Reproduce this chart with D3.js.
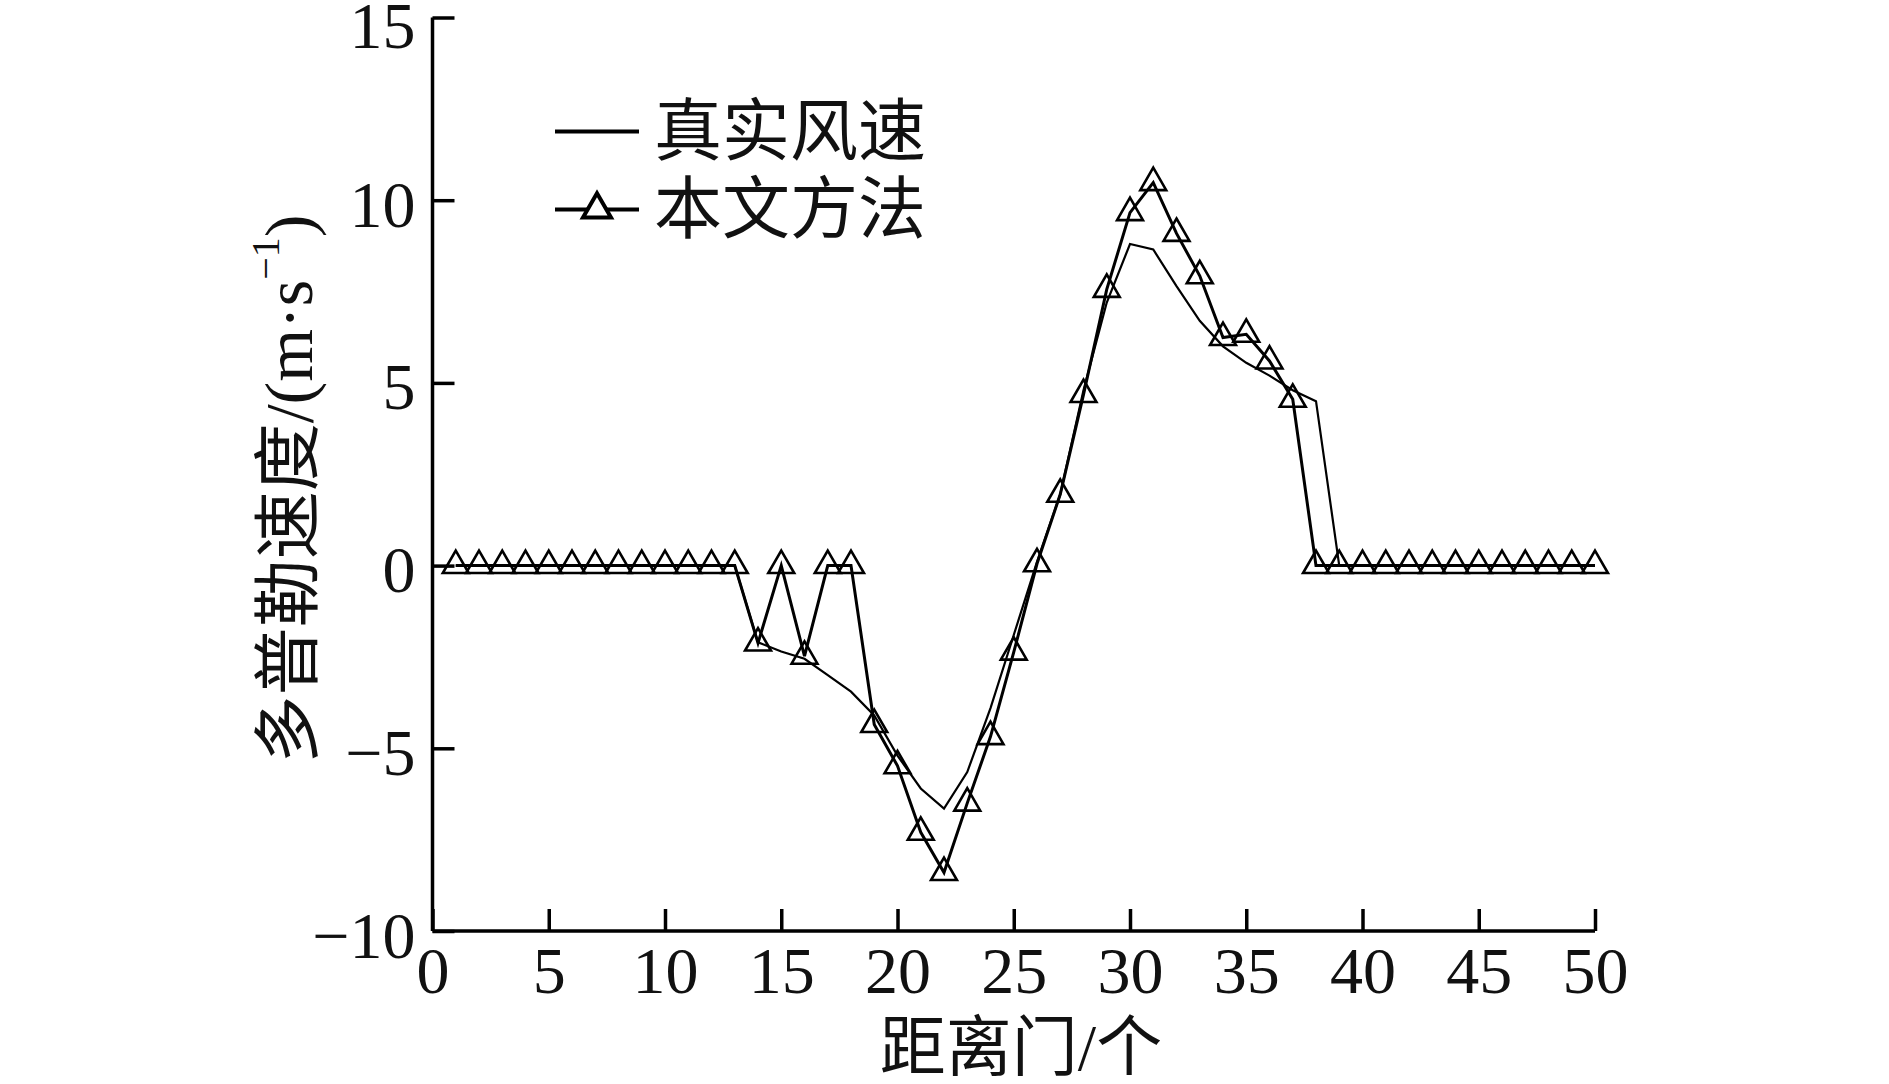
<!DOCTYPE html>
<html>
<head>
<meta charset="utf-8">
<script src="https://cdn.jsdelivr.net/npm/d3@7"></script>
<style>
  html, body { margin: 0; padding: 0; background: #fff; }
  svg { display: block; }
</style>
</head>
<body>
<svg id="chart" width="1889" height="1084"></svg>
<script>
// ---- data ----
const gates = [1,2,3,4,5,6,7,8,9,10,11,12,13,14,15,16,17,18,19,20,21,22,23,24,25,
               26,27,28,29,30,31,32,33,34,35,36,37,38,39,40,41,42,43,44,45,46,47,48,49,50];
// 真实风速
const trueSpeed = [0,0,0,0,0,0,0,0,0,0,0,0,0,-2.1,-2.35,-2.55,-3.0,-3.45,-4.1,-5.2,
                   -6.1,-6.65,-5.65,-3.9,-1.9,0.1,1.95,4.8,7.2,8.8,8.65,7.65,6.7,6.0,5.55,
                   5.2,4.8,4.5,0,0,0,0,0,0,0,0,0,0,0,0];
// 本文方法
const methodSpeed = [0,0,0,0,0,0,0,0,0,0,0,0,0,-2.12,0,-2.48,0,0,-4.35,-5.48,
                     -7.3,-8.4,-6.5,-4.68,-2.37,0.05,1.95,4.68,7.56,9.66,10.48,9.09,7.93,6.24,6.33,
                     5.6,4.55,0,0,0,0,0,0,0,0,0,0,0,0,0];
const xTicks = [0,5,10,15,20,25,30,35,40,45,50];
const yTicks = [-10,-5,0,5,10,15];
const seriesNames = ["真实风速", "本文方法"];
const xTitle = "距离门/个";
const yTitleMain = "多普勒速度/(m·s";
const yTitleSup = "−1";
const yTitleEnd = ")";

// ---- layout ----
const svg = d3.select("#chart");
const FONT = "'Liberation Serif', 'Noto Sans CJK SC', serif";
const x = d3.scaleLinear().domain([0, 50]).range([432.5, 1595]);
const y = d3.scaleLinear().domain([-10, 15]).range([931, 17.5]);

const axisW = 3.5;

// x axis
const gx = svg.append("g").attr("transform", `translate(0,${y(-10)})`)
  .call(d3.axisBottom(x).tickValues(xTicks).tickSize(-22).tickSizeOuter(0).tickFormat(d3.format("d")));
gx.select(".domain").attr("stroke", "#000").attr("stroke-width", axisW)
  .attr("d", `M${x(0)},0H${x(50)}`);
gx.selectAll(".tick line").attr("stroke", "#000").attr("stroke-width", axisW);
gx.selectAll(".tick text").attr("font-family", FONT).attr("font-size", 66)
  .attr("fill", "#111").attr("y", 62).attr("dy", 0);

// y axis
const gy = svg.append("g").attr("transform", `translate(${x(0)},0)`)
  .call(d3.axisLeft(y).tickValues(yTicks).tickSize(-22).tickSizeOuter(0).tickPadding(17).tickFormat(d3.format("d")));
gy.select(".domain").attr("stroke", "#000").attr("stroke-width", axisW)
  .attr("d", `M0,${y(15)}V${y(-10)}`);
gy.selectAll(".tick line").attr("stroke", "#000").attr("stroke-width", axisW);
gy.selectAll(".tick text").attr("font-family", FONT).attr("font-size", 66)
  .attr("fill", "#111").attr("dy", 0).attr("y", d => d === 15 ? 30 : 26);

// lines
const line = d3.line().x((d, i) => x(gates[i])).y(d => y(d));
svg.append("path").datum(methodSpeed).attr("d", line)
  .attr("fill", "none").attr("stroke", "#000").attr("stroke-width", 3).attr("stroke-linejoin", "miter");
svg.append("path").datum(trueSpeed).attr("d", line)
  .attr("fill", "none").attr("stroke", "#000").attr("stroke-width", 2.2);

// triangle markers
const tri = d3.symbol().type(d3.symbolTriangle).size(290);
svg.append("g").selectAll("path").data(methodSpeed).join("path")
  .attr("d", tri)
  .attr("transform", (d, i) => `translate(${x(gates[i])},${y(d)})`)
  .attr("fill", "none").attr("stroke", "#000").attr("stroke-width", 2.6);

// legend
const lg = svg.append("g");
const legRows = [131.5, 209.5];
lg.append("line").attr("x1", 555).attr("x2", 639).attr("y1", legRows[0]).attr("y2", legRows[0])
  .attr("stroke", "#000").attr("stroke-width", 4);
lg.append("line").attr("x1", 555).attr("x2", 639).attr("y1", legRows[1]).attr("y2", legRows[1])
  .attr("stroke", "#000").attr("stroke-width", 4);
lg.append("path").attr("d", d3.symbol().type(d3.symbolTriangle).size(340))
  .attr("transform", `translate(597,${legRows[1]})`)
  .attr("fill", "#fff").attr("stroke", "#000").attr("stroke-width", 4);
lg.selectAll("text").data(seriesNames).join("text")
  .attr("x", 654).attr("y", (d, i) => legRows[i])
  .attr("dominant-baseline", "central")
  .attr("font-family", FONT).attr("font-size", 68).attr("fill", "#111")
  .text(d => d);

// axis titles
svg.append("text").attr("x", 1021).attr("y", 1047)
  .attr("text-anchor", "middle").attr("dominant-baseline", "central")
  .attr("font-family", FONT).attr("font-size", 66).attr("fill", "#111")
  .text(xTitle);

const yt = svg.append("text")
  .attr("transform", "translate(289,489) rotate(-90)")
  .attr("text-anchor", "middle").attr("dominant-baseline", "central")
  .attr("font-family", FONT).attr("font-size", 68).attr("fill", "#111");
yt.append("tspan").text(yTitleMain);
yt.append("tspan").attr("font-size", 40).attr("dy", -24).text(yTitleSup);
yt.append("tspan").attr("dy", 24).text(yTitleEnd);
</script>
</body>
</html>
